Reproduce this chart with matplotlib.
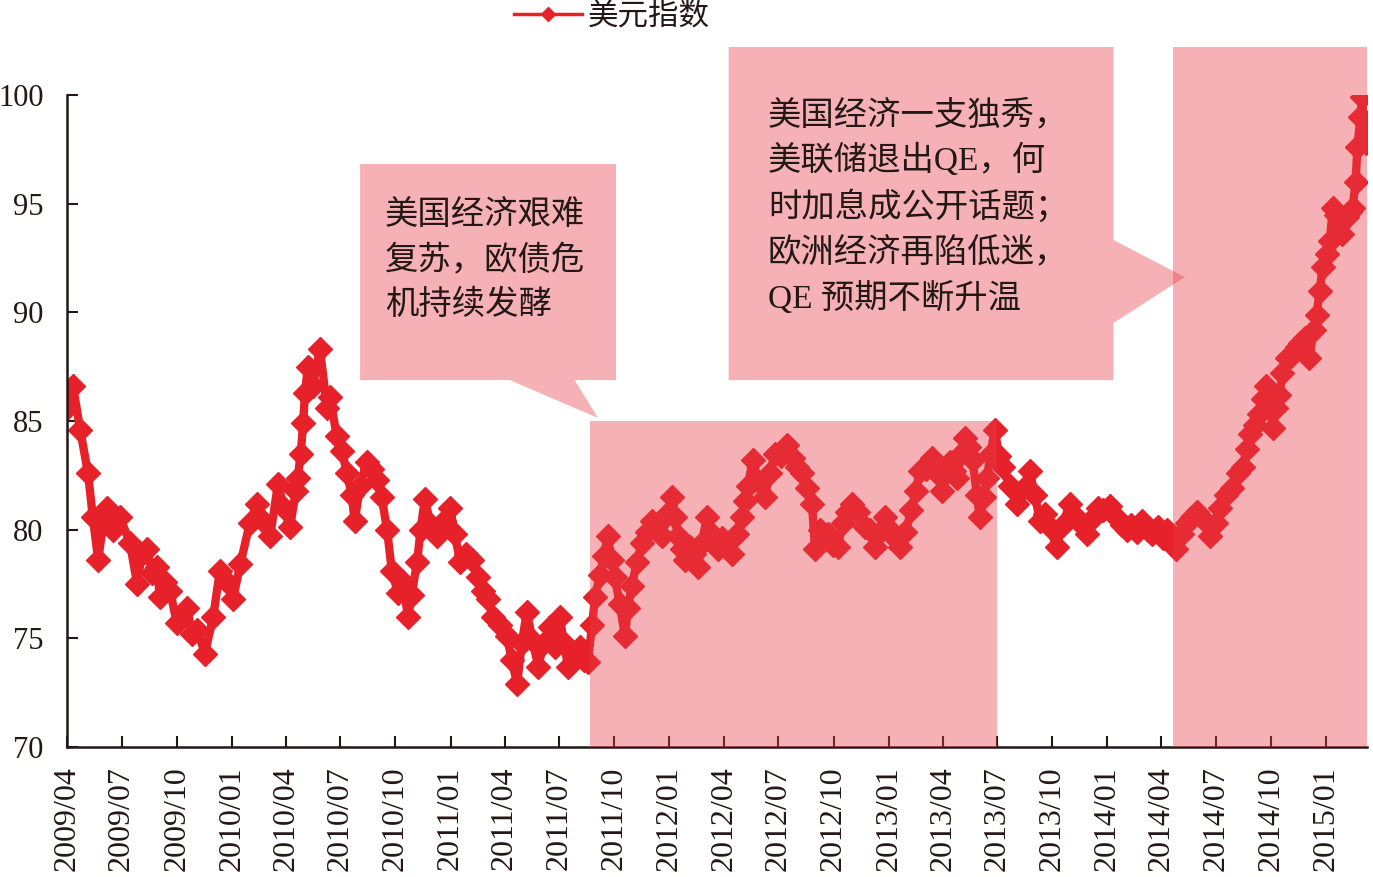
import matplotlib
matplotlib.use('Agg')
import matplotlib.pyplot as plt
import matplotlib.dates as mdates
from matplotlib.patches import Polygon
import pandas as pd

plt.rcParams['font.family'] = ['Liberation Serif', 'Noto Sans CJK SC']

# dollar index (day offset from 2009-04-01, value)
start = pd.Timestamp('2009-04-01')
days = [0, 10, 22, 35, 43, 52, 60, 67, 77, 88, 105, 117, 125, 133, 142, 150, 155, 163, 172, 183,
        200, 209, 217, 230, 244, 255, 267, 277, 289, 305, 317, 327, 339, 352, 362, 372, 382, 385,
        390, 394, 397, 402, 410, 422, 434, 439, 450, 459, 467, 475, 480, 489, 500, 509, 517, 525,
        534, 542, 552, 560, 569, 575, 584, 590, 597, 607, 617, 629, 639, 647, 656, 666, 676, 686,
        694, 702, 711, 722, 734, 742, 751, 759, 767, 777, 786, 796, 806, 814, 822, 829, 836, 846,
        856, 862, 869, 876, 881, 889, 896, 902, 909, 914, 922, 931, 936, 942, 951, 959, 967, 976,
        984, 992, 1001, 1009, 1014, 1019, 1026, 1031, 1039, 1046, 1053, 1059, 1068, 1076, 1086,
        1093, 1101, 1109, 1118, 1126, 1131, 1136, 1144, 1154, 1164, 1173, 1181, 1191, 1201, 1211,
        1218, 1226, 1234, 1243, 1248, 1256, 1263, 1269, 1278, 1286, 1294, 1301, 1309, 1319, 1331,
        1339, 1348, 1356, 1364, 1373, 1381, 1389, 1399, 1409, 1416, 1423, 1433, 1443, 1451, 1460,
        1466, 1473, 1480, 1485, 1491, 1498, 1505, 1511, 1518, 1523, 1530, 1535, 1541, 1548, 1555,
        1561, 1573, 1585, 1596, 1606, 1615, 1623, 1631, 1640, 1651, 1661, 1673, 1683, 1693, 1701,
        1711, 1720, 1728, 1740, 1751, 1760, 1768, 1776, 1785, 1793, 1803, 1811, 1820, 1828, 1836,
        1845, 1851, 1860, 1868, 1877, 1885, 1895, 1907, 1917, 1923, 1933, 1943, 1953, 1962, 1968,
        1973, 1982, 1988, 1995, 2000, 2007, 2012, 2018, 2023, 2028, 2035, 2043, 2052, 2057, 2065,
        2073, 2080, 2085, 2090, 2095, 2102, 2107, 2112, 2118, 2123, 2128, 2135, 2140, 2145, 2150,
        2153, 2158, 2161, 2165, 2168]
values = [85.6, 86.6, 84.6, 82.6, 80.6, 78.6, 80.2, 81.0, 80.0, 80.6, 79.4, 77.5, 78.9, 79.1, 78.0,
          78.3, 76.9, 77.6, 77.2, 75.7, 76.4, 75.2, 75.4, 74.3, 76.0, 78.1, 77.6, 76.8, 78.4, 80.3,
          81.2, 80.4, 79.7, 82.1, 81.0, 80.1, 81.8, 82.4, 83.5, 84.9, 86.3, 87.5, 86.6, 88.3, 85.6,
          86.1, 84.3, 83.6, 82.6, 81.6, 80.4, 82.0, 83.1, 82.8, 82.3, 81.5, 80.0, 78.1, 77.1, 77.6,
          76.0, 77.0, 78.5, 80.0, 81.4, 80.2, 79.7, 80.4, 81.0, 79.8, 78.5, 78.9, 78.6, 77.8, 77.2,
          76.8, 76.0, 75.6, 75.1, 74.0, 72.9, 74.8, 76.2, 74.9, 73.7, 74.8, 75.5, 74.6, 76.0, 74.8,
          73.7, 74.3, 74.6, 74.0, 73.9, 75.6, 76.9, 77.9, 78.8, 79.7, 78.6, 77.8, 76.6, 75.1, 76.4,
          77.4, 78.5, 79.4, 79.9, 80.4, 80.2, 79.7, 80.7, 81.5, 80.6, 79.7, 79.1, 78.6, 79.2, 78.9,
          78.3, 79.4, 80.6, 79.8, 79.1, 79.6, 79.4, 78.9, 79.8, 80.6, 81.3, 82.0, 83.2, 82.2, 81.5,
          82.6, 83.5, 83.4, 83.9, 83.3, 82.9, 82.6, 81.9, 81.2, 79.1, 80.0, 79.8, 79.8, 79.3, 79.2,
          80.3, 80.8, 81.2, 80.8, 80.1, 80.0, 79.2, 79.9, 80.6, 80.0, 79.6, 79.2, 79.9, 80.9, 81.8,
          82.7, 82.8, 83.3, 82.6, 81.8, 82.6, 83.1, 82.7, 82.4, 83.5, 84.2, 83.8, 83.2, 81.6, 80.6,
          81.5, 82.4, 83.5, 84.6, 83.4, 82.9, 82.0, 81.2, 81.9, 82.7, 81.6, 80.4, 80.7, 80.1, 79.2,
          80.2, 81.2, 80.6, 80.2, 79.8, 80.5, 81.0, 80.9, 81.1, 80.6, 80.2, 80.0, 80.2, 79.9, 80.4,
          80.0, 79.8, 80.1, 79.6, 80.0, 79.7, 79.1, 79.8, 80.3, 80.6, 80.8, 80.5, 79.7, 80.3, 81.0,
          81.6, 81.9, 82.6, 82.9, 83.7, 84.4, 84.8, 85.3, 86.0, 86.6, 85.6, 84.7, 85.6, 86.2, 87.2,
          87.9, 88.0, 88.4, 88.6, 88.8, 87.9, 89.2, 89.9, 91.0, 92.1, 92.7, 93.3, 94.8, 94.5, 94.0,
          93.6, 94.4, 94.6, 94.8, 96.0, 97.6, 99.0, 99.9, 98.8, 97.8]
dates = start + pd.to_timedelta(days, unit='D')

tick_labels = ['2009/04', '2009/07', '2009/10', '2010/01', '2010/04', '2010/07', '2010/10',
               '2011/01', '2011/04', '2011/07', '2011/10', '2012/01', '2012/04', '2012/07',
               '2012/10', '2013/01', '2013/04', '2013/07', '2013/10', '2014/01', '2014/04',
               '2014/07', '2014/10', '2015/01']
tick_dates = pd.to_datetime([t.replace('/', '-') + '-01' for t in tick_labels])

x_end = pd.Timestamp('2015-03-10')
shade_spans = [('2011-08-21', '2013-07-01', 85.0), ('2014-04-20', '2015-03-10', 102.2)]

note1_lines = ['美国经济艰难', '复苏，欧债危', '机持续发酵']
note2_lines = ['美国经济一支独秀，', '美联储退出QE，何', '时加息成公开话题；',
               '欧洲经济再陷低迷，', 'QE 预期不断升温']

# callout outlines (date, value)
note1_shape = [('2010-08-03', 96.82), ('2011-10-04', 96.82), ('2011-10-04', 86.88),
               ('2011-07-27', 86.88), ('2011-09-04', 85.14), ('2011-04-10', 86.88),
               ('2010-08-03', 86.88)]
note2_shape = [('2012-04-09', 102.21), ('2014-01-11', 102.21), ('2014-01-11', 93.33),
               ('2014-05-10', 91.62), ('2014-01-11', 89.51), ('2014-01-11', 86.88),
               ('2012-04-09', 86.88)]

line_color = '#E62129'
shade_color = '#E83C46'
text_color = '#231815'

fig = plt.figure(figsize=(13.73, 8.77), dpi=100)
ax = fig.add_axes([67 / 1373, 1 - 747 / 877, 1300 / 1373, 652 / 877])

ax.plot(dates, values, color=line_color, lw=6, marker='D', ms=12, mec=line_color,
        mfc=line_color, label='美元指数', zorder=2)

for s, e, top in shade_spans:
    x0 = mdates.date2num(pd.Timestamp(s))
    x1 = mdates.date2num(pd.Timestamp(e))
    ax.fill([x0, x1, x1, x0], [70, 70, top, top], color=shade_color, alpha=0.4,
            lw=0, zorder=3, clip_on=False)

for shape in (note1_shape, note2_shape):
    pts = [(mdates.date2num(pd.Timestamp(d)), v) for d, v in shape]
    ax.add_patch(Polygon(pts, closed=True, fc=shade_color, alpha=0.4, lw=0,
                         zorder=3, clip_on=False))

ax.set_xlim(start, x_end)
ax.set_ylim(70, 100)
ax.set_yticks(range(70, 101, 5))
ax.set_xticks(tick_dates)
ax.set_xticklabels(tick_labels, rotation=90)

for side in ('top', 'right'):
    ax.spines[side].set_visible(False)
for side in ('left', 'bottom'):
    ax.spines[side].set_color(text_color)
    ax.spines[side].set_linewidth(1.8)
ax.tick_params(axis='both', direction='in', length=8, width=1.5, colors=text_color,
               labelsize=22, labelcolor=text_color)
ax.tick_params(axis='y', pad=17)
ax.tick_params(axis='x', pad=14, labelsize=23)

for i, line in enumerate(note1_lines):
    fig.text(385 / 1373, 1 - (215 + 45 * i) / 877, line, fontsize=24, color=text_color,
             ha='left', va='center')
for i, line in enumerate(note2_lines):
    fig.text(768 / 1373, 1 - (115 + 45.8 * i) / 877, line, fontsize=24, color=text_color,
             ha='left', va='center')

leg = fig.legend(loc='center', bbox_to_anchor=(612 / 1373, 1 - 17 / 877), frameon=False,
                 fontsize=22, handlelength=2.2, handletextpad=0.2, numpoints=1,
                 labelcolor=text_color)
for h in leg.legend_handles:
    h.set_linewidth(2.5)
    h.set_markersize(7)

fig.savefig('out.png', dpi=100)
